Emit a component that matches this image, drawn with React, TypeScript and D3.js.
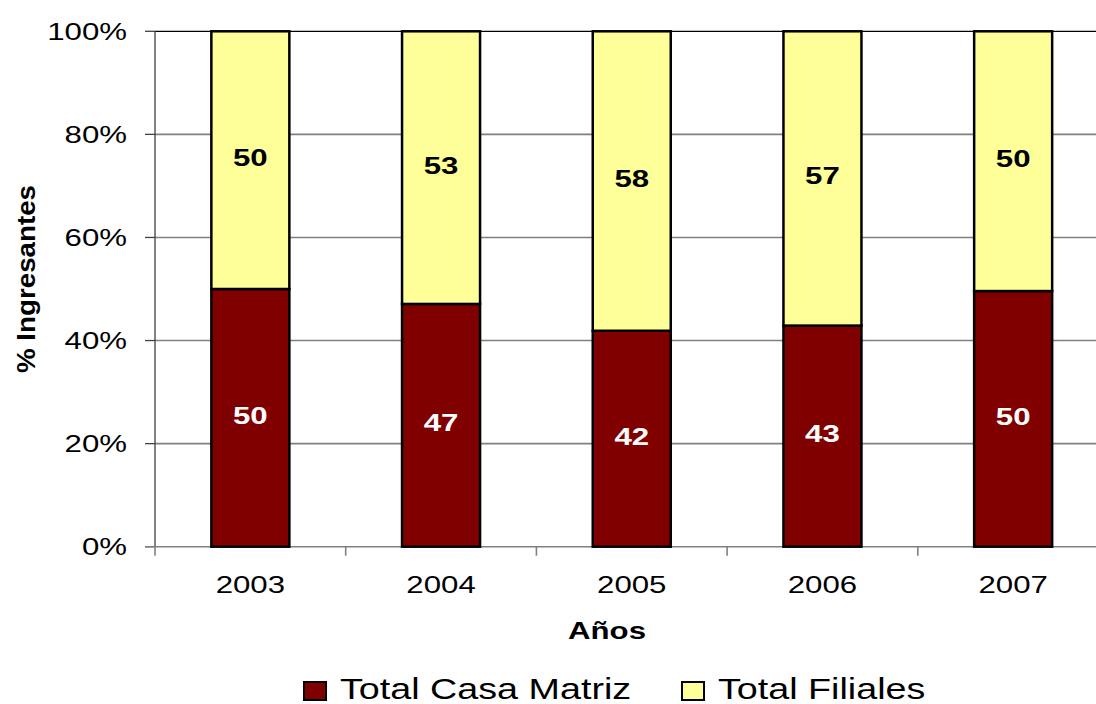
import React from "react";
import * as d3 from "d3";

const years = ["2003", "2004", "2005", "2006", "2007"];
const casaMatriz = [50.0, 47.1, 41.9, 42.9, 49.6];
const filiales = [50.0, 52.9, 58.1, 57.1, 50.4];
const yTicks = [0, 20, 40, 60, 80, 100];
const seriesNames = ["Total Casa Matriz", "Total Filiales"];
const seriesColors = ["#800000", "#FFFF99"];

const W = 1096;
const H = 704;
const SX = 1.3;
const FONT = "Arial, 'Liberation Sans', sans-serif";

const T = ({ x, y, anchor = "middle", size, bold = false, fill = "#000", children }: any) => (
  <text
    transform={`translate(${x},${y}) scale(${SX},1)`}
    textAnchor={anchor}
    fontSize={size}
    fontWeight={bold ? "bold" : "normal"}
    fontFamily={FONT}
    fill={fill}
  >
    {children}
  </text>
);

export default function App() {
  const left = 155;
  const top = 31.3;
  const bottom = 546.7;
  const step = 190.7;
  const x = d3.scaleBand<string>().domain(years).range([left, left + step * years.length]).padding(0);
  const y = d3.scaleLinear().domain([0, 100]).range([bottom, top]);
  const barW = 78;

  const stacked = years.map((yr, i) => {
    const c = casaMatriz[i];
    const f = filiales[i];
    return { yr, segs: [{ y0: 0, y1: c, v: c, k: 0 }, { y0: c, y1: c + f, v: f, k: 1 }] };
  });

  return (
    <svg
      width={W}
      height={H}
      style={{ position: "absolute", left: 0, top: 0, background: "#fff" }}
    >
      <rect x={0} y={0} width={W} height={H} fill="#fff" />
      {yTicks.filter((t) => t > 0).map((t) => (
        <line
          key={t}
          x1={left}
          x2={W}
          y1={y(t)}
          y2={y(t)}
          stroke={t === 100 ? "#000" : "#808080"}
          strokeWidth={t === 100 ? 1.2 : 1.6}
        />
      ))}
      <line x1={left} x2={left} y1={top} y2={bottom} stroke="#404040" strokeWidth={1.3} />
      {yTicks.map((t) => (
        <g key={t}>
          <line x1={left - 10} x2={left} y1={y(t)} y2={y(t)} stroke="#404040" strokeWidth={1.3} />
          <T x={127} y={y(t) + 8.5} anchor="end" size={24}>{`${t}%`}</T>
        </g>
      ))}
      <line x1={left - 10} x2={W} y1={bottom} y2={bottom} stroke="#808080" strokeWidth={1.6} />
      {years.map((yr) => (
        <line
          key={yr}
          x1={x(yr)!}
          x2={x(yr)!}
          y1={bottom}
          y2={bottom + 9}
          stroke="#808080"
          strokeWidth={1.6}
        />
      ))}
      {stacked.map((d) => {
        const cx = x(d.yr)! + x.bandwidth() / 2;
        return (
          <g key={d.yr}>
            {d.segs.map((s) => (
              <rect
                key={s.k}
                x={cx - barW / 2}
                y={y(s.y1)}
                width={barW}
                height={y(s.y0) - y(s.y1)}
                fill={seriesColors[s.k]}
                stroke="#000"
                strokeWidth={2.5}
              />
            ))}
            {d.segs.map((s) => (
              <T
                key={"l" + s.k}
                x={cx}
                y={y((s.y0 + s.y1) / 2) + 6}
                size={24}
                bold
                fill={s.k === 0 ? "#fff" : "#000"}
              >
                {Math.round(s.v)}
              </T>
            ))}
            <T x={cx} y={593} size={24}>{d.yr}</T>
          </g>
        );
      })}
      <T x={607} y={639} size={24} bold>Años</T>
      <text
        transform={`translate(35,279) rotate(-90)`}
        textAnchor="middle"
        fontSize={25}
        fontWeight="bold"
        fontFamily={FONT}
        textLength={188}
        lengthAdjust="spacingAndGlyphs"
      >
        % Ingresantes
      </text>
      {seriesNames.map((n, i) => {
        const bx = i === 0 ? 304 : 682;
        return (
          <g key={n}>
            <rect x={bx} y={682} width={22} height={18} fill={seriesColors[i]} stroke="#000" strokeWidth={2} />
            <T x={bx + 36} y={699} anchor="start" size={29}>{n}</T>
          </g>
        );
      })}
    </svg>
  );
}
